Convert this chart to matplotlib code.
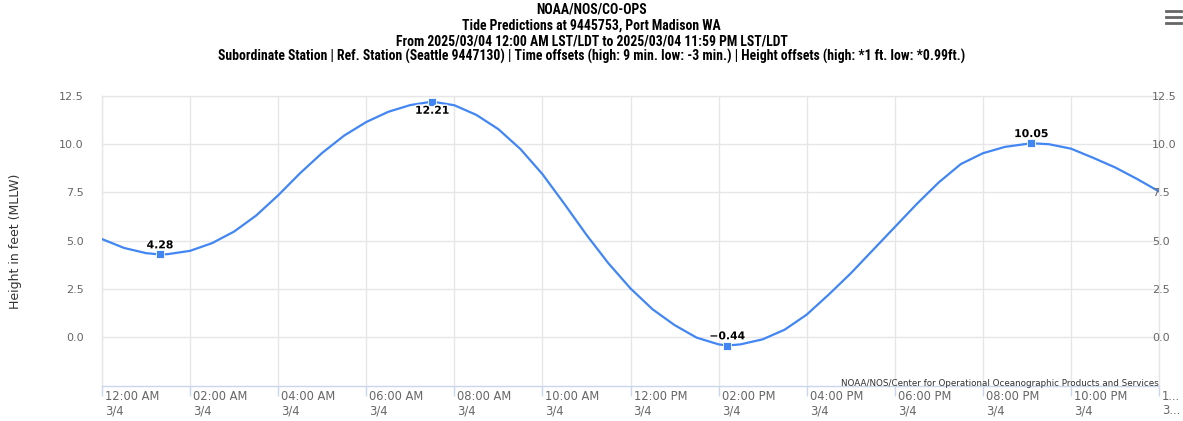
import matplotlib
matplotlib.use("Agg")
import matplotlib.pyplot as plt
import matplotlib.patheffects as pe
import matplotlib.transforms as mtransforms
from matplotlib.lines import Line2D
from matplotlib import font_manager

# ---------------- data ----------------
hours = [0, 0.5, 1, 1.32, 1.5, 2, 2.5, 3, 3.5, 4, 4.5, 5, 5.5, 6, 6.5, 7, 7.5,
         8, 8.5, 9, 9.5, 10, 10.5, 11, 11.5, 12, 12.5, 13, 13.5, 14, 14.2, 14.5,
         15, 15.5, 16, 16.5, 17, 17.5, 18, 18.5, 19, 19.5, 20, 20.5, 21.1, 21.5,
         22, 22.5, 23, 23.5, 24]
heights = [5.08, 4.62, 4.35, 4.28, 4.30, 4.47, 4.87, 5.47, 6.30, 7.35, 8.50,
           9.55, 10.45, 11.15, 11.68, 12.03, 12.21, 12.02, 11.52, 10.78, 9.75,
           8.45, 6.90, 5.30, 3.82, 2.52, 1.44, 0.62, -0.03, -0.38, -0.44, -0.38,
           -0.12, 0.38, 1.16, 2.20, 3.30, 4.50, 5.70, 6.90, 8.02, 8.97, 9.53,
           9.86, 10.05, 10.00, 9.77, 9.30, 8.80, 8.20, 7.55]

extreme_hours = [1.32, 7.5, 14.2, 21.1]
extreme_values = [4.28, 12.21, -0.44, 10.05]
extreme_labels = ["4.28", "12.21", "\u22120.44", "10.05"]
extreme_label_above = [True, False, True, True]

xtick_hours = [0, 2, 4, 6, 8, 10, 12, 14, 16, 18, 20, 22, 24]
xtick_times = ["12:00 AM", "02:00 AM", "04:00 AM", "06:00 AM", "08:00 AM",
               "10:00 AM", "12:00 PM", "02:00 PM", "04:00 PM", "06:00 PM",
               "08:00 PM", "10:00 PM", "1..."]
xtick_dates = ["3/4"] * 12 + ["3..."]
ytick_values = [0.0, 2.5, 5.0, 7.5, 10.0, 12.5]
ytick_labels = ["0.0", "2.5", "5.0", "7.5", "10.0", "12.5"]

title_lines = [
    "NOAA/NOS/CO-OPS",
    "Tide Predictions at 9445753, Port Madison WA",
    "From 2025/03/04 12:00 AM LST/LDT to 2025/03/04 11:59 PM LST/LDT",
    "Subordinate Station | Ref. Station (Seattle 9447130) | Time offsets (high: 9 min. low: -3 min.) | Height offsets (high: *1 ft. low: *0.99ft.)",
]
y_label = "Height in feet (MLLW)"
credit = "NOAA/NOS/Center for Operational Oceanographic Products and Services"

# ---------------- style ----------------
W, H = 1183, 421
LINE_COLOR = "#4286f4"
GRID = "#e6e6e6"
AXIS = "#ccd6eb"
TICK_TXT = "#666666"

avail = {f.name for f in font_manager.fontManager.ttflist}
title_family = "Liberation Sans"
for cand in ["Liberation Sans Narrow", "Arial Narrow", "DejaVu Sans Condensed",
             "Roboto Condensed", "Open Sans Condensed"]:
    if cand in avail:
        title_family = cand
        break

fig = plt.figure(figsize=(W / 100, H / 100), dpi=100)
fig.patch.set_facecolor("white")

left, right, top, bottom = 102, 1159, 96, 386
ax = fig.add_axes([left / W, 1 - bottom / H, (right - left) / W, (bottom - top) / H])
ax.set_xlim(0, 24)
ax.set_ylim(-2.54, 12.5)

ax.plot(hours, heights, color=LINE_COLOR, lw=1.6, solid_capstyle="round",
        solid_joinstyle="round", zorder=3)
ax.plot(extreme_hours, extreme_values, ls="none", marker="s", ms=6,
        mfc=LINE_COLOR, mec="white", mew=0.6, zorder=4)
for xh, v, lab, above in zip(extreme_hours, extreme_values, extreme_labels, extreme_label_above):
    ax.annotate(lab, (xh, v), xytext=(0, 3 if above else -3), textcoords="offset points",
                ha="center", va="bottom" if above else "top", fontsize=7.8,
                fontweight="bold", color="#000000", zorder=5,
                path_effects=[pe.withStroke(linewidth=2, foreground="white")])

# grid
ax.set_yticks(ytick_values)
ax.set_yticklabels(ytick_labels)
ax.set_xticks(xtick_hours)
ax.set_xticklabels([])
ax.grid(True, color=GRID, lw=1)
ax.set_axisbelow(True)

for s in ["top", "right", "left"]:
    ax.spines[s].set_color(GRID)
    ax.spines[s].set_linewidth(1)
ax.spines["bottom"].set_color(AXIS)
ax.spines["bottom"].set_linewidth(1)

ax.tick_params(axis="y", length=0, pad=13, labelsize=8, labelcolor=TICK_TXT)
ax.tick_params(axis="x", length=7, width=1, color=AXIS, pad=0)

# x tick labels, two lines, left aligned next to the tick
xtrans = mtransforms.blended_transform_factory(ax.transData, ax.transAxes)
for xh, t, d in zip(xtick_hours, xtick_times, xtick_dates):
    off = mtransforms.ScaledTranslation(3 / 100, -10 / 100, fig.dpi_scale_trans)
    ax.text(xh, 0, t, transform=xtrans + off, ha="left", va="center",
            fontsize=8.3, color=TICK_TXT, clip_on=False)
    off2 = mtransforms.ScaledTranslation(3 / 100, -25 / 100, fig.dpi_scale_trans)
    ax.text(xh, 0, d, transform=xtrans + off2, ha="left", va="center",
            fontsize=8.3, color=TICK_TXT, clip_on=False)

ax2 = ax.twinx()
ax2.set_ylim(ax.get_ylim())
ax2.set_yticks(ytick_values)
ax2.set_yticklabels(ytick_labels)
ax2.tick_params(axis="y", length=0, pad=-5, labelsize=8, labelcolor=TICK_TXT)
for s in ax2.spines.values():
    s.set_visible(False)

ax.set_ylabel(y_label, fontsize=9, color="#333333", labelpad=27)

ax.text(1.0, 2 / 290, credit, transform=ax.transAxes, ha="right", va="center",
        fontsize=6.3, color="#333333", zorder=6)

# titles
ys = [10, 26, 41, 56]
title_texts = []
for t, yy in zip(title_lines, ys):
    title_texts.append(fig.text(0.5, 1 - yy / H, t, ha="center", va="center",
                                fontsize=9.3, fontweight="bold", color="#000000",
                                family=title_family))
fig.canvas.draw()
rend = fig.canvas.get_renderer()
wid = title_texts[3].get_window_extent(rend).width
scale = 748.0 / wid
for tt in title_texts:
    tt.set_fontsize(9.3 * scale)

# menu icon
for yy in [11, 17, 23]:
    fig.add_artist(Line2D([1166 / W, 1181 / W], [1 - yy / H, 1 - yy / H],
                          color="#666666", lw=2, transform=fig.transFigure))

fig.savefig("out.png", dpi=100, facecolor="white")
